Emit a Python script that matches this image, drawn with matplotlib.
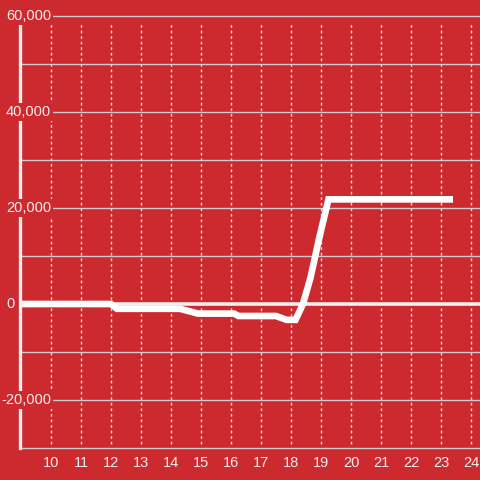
import matplotlib
matplotlib.use('Agg')
import matplotlib.pyplot as plt
import matplotlib.transforms as mtransforms

# data
hours = [9.0, 12.0, 12.2, 14.3, 14.9, 16.1, 16.25, 17.5, 17.85, 18.15, 18.4, 18.65, 18.95, 19.25, 23.4]
values = [0, 0, -1000, -1000, -2000, -2000, -2500, -2500, -3300, -3300, 0, 5500, 14000, 21800, 21800]
x_ticks = list(range(10, 25))
y_labels = [60000, 40000, 20000, 0, -20000]
y_grid = [60000, 50000, 40000, 30000, 20000, 10000, -10000, -20000, -30000]

bg = '#cc2a2f'
fg = '#f4eeee'

plt.rcParams['font.family'] = ['Liberation Sans', 'DejaVu Sans']

fig = plt.figure(figsize=(4.8, 4.8), dpi=100)
fig.patch.set_facecolor(bg)
ax = fig.add_axes([20 / 480, 32 / 480, 460 / 480, 432 / 480])
ax.set_facecolor(bg)

ax.set_xlim(10 - 31 / 30, 10 - 31 / 30 + 460 / 30)
ax.set_ylim(-30000, 60000)

# grid
for g in y_grid:
    ax.axhline(g, color='#cccccc', lw=1, zorder=1, clip_on=False)
for t in x_ticks:
    ax.axvline(t, ymin=0.01, ymax=0.985, color='#dddddd', lw=1, ls=(0, (2, 2)), zorder=1)
ax.axhline(0, color=fg, lw=2.6, zorder=2)

# data line
ax.plot(hours, values, color='white', lw=4.8, solid_joinstyle='miter',
        solid_capstyle='butt', zorder=3)

for s in ['top', 'right', 'bottom']:
    ax.spines[s].set_visible(False)
ax.spines['left'].set_color(fg)
ax.spines['left'].set_linewidth(2.4)
ax.spines['left'].set_zorder(4)

ax.set_xticks(x_ticks)
ax.set_xticklabels([str(t) for t in x_ticks], color=fg, fontsize=10.5)
ax.tick_params(axis='x', length=0, pad=6)
ax.set_yticks([])

# y labels drawn on top of the spine
trans = mtransforms.blended_transform_factory(fig.transFigure, ax.transData)
for v in y_labels:
    txt = '{:,}'.format(v)
    xp = 6 if v >= 0 else 1
    ax.text(xp / 480, v, txt, transform=trans, ha='left', va='center',
            color=fg, fontsize=10.5, zorder=5, clip_on=False,
            bbox=dict(facecolor=bg, edgecolor='none', pad=1.5))

fig.savefig('out.png', dpi=100, facecolor=bg)
